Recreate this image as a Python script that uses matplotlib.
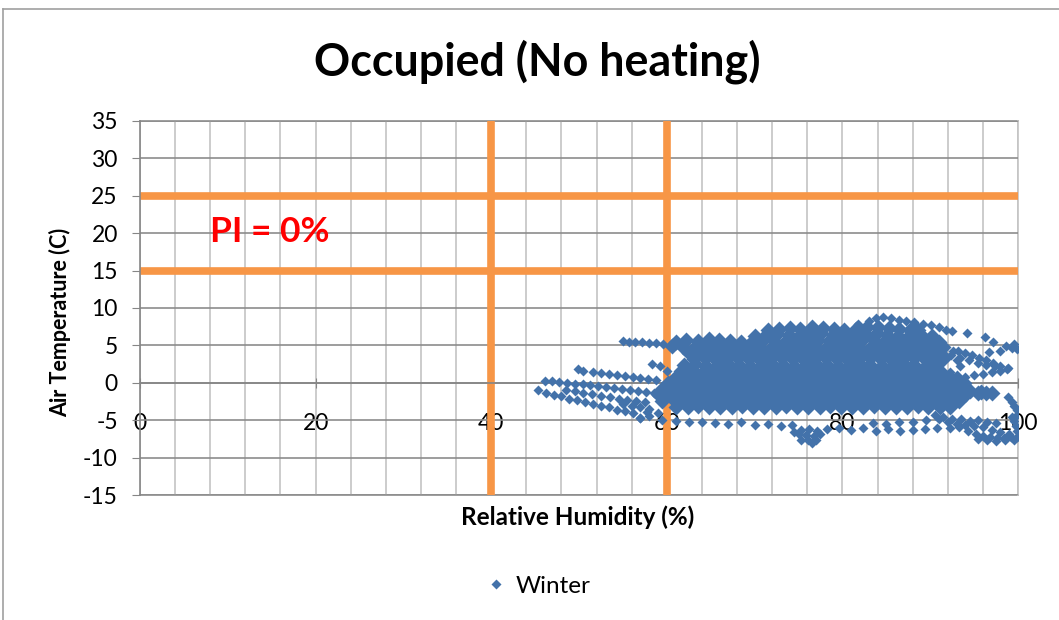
import matplotlib
matplotlib.use('Agg')
import matplotlib.pyplot as plt
from matplotlib.lines import Line2D

plt.rcParams['font.family'] = ['Lato', 'DejaVu Sans']
plt.rcParams['axes.unicode_minus'] = False

# ---- data (relative humidity %, air temperature C) ----
# dense core of the winter cloud, one line per band
rh_core = [
    71.5, 72.8, 74.0, 75.2, 76.5, 77.8, 79.0, 80.2, 81.5, 82.8, 84.0, 85.3, 86.5, 87.7, 88.6,
    70.1, 71.3, 72.6, 73.9, 75.1, 76.3, 77.6, 78.9, 80.1, 81.3, 82.6, 83.9, 85.1, 86.3, 87.6, 88.9, 90.2,
    61.0, 62.2, 63.5, 64.8, 66.0, 67.2, 68.5, 69.8, 71.0, 72.2, 73.5, 74.8, 76.0, 77.2, 78.5, 79.8, 81.0,
    82.2, 83.5, 84.8, 86.0, 87.2, 88.5, 89.8, 91.0,
    60.6, 61.9, 63.1, 64.3, 65.6, 66.9, 68.1, 69.3, 70.6, 71.9, 73.1, 74.3, 75.6, 76.9, 78.1, 79.3, 80.6,
    81.9, 83.1, 84.3, 85.6, 86.9, 88.1, 89.3, 90.6,
    62.5, 63.8, 65.0, 66.2, 67.5, 68.8, 70.0, 71.2, 72.5, 73.8, 75.0, 76.2, 77.5, 78.8, 80.0, 81.2, 82.5,
    83.8, 85.0, 86.2, 87.5, 88.8, 90.0, 91.2,
    63.1, 64.4, 65.6, 66.8, 68.1, 69.4, 70.6, 71.8, 73.1, 74.4, 75.6, 76.8, 78.1, 79.4, 80.6, 81.8, 83.1,
    84.4, 85.6, 86.8, 88.1, 89.4, 90.6, 91.5,
    62.0, 63.2, 64.5, 65.8, 67.0, 68.2, 69.5, 70.8, 72.0, 73.2, 74.5, 75.8, 77.0, 78.2, 79.5, 80.8, 82.0,
    83.2, 84.5, 85.8, 87.0, 88.2, 89.5, 90.6,
    61.6, 62.9, 64.1, 65.3, 66.6, 67.9, 69.1, 70.3, 71.6, 72.9, 74.1, 75.3, 76.6, 77.9, 79.1, 80.3, 81.6,
    82.9, 84.1, 85.3, 86.6, 87.9, 89.1, 90.3, 91.2,
    61.0, 62.2, 63.5, 64.8, 66.0, 67.2, 68.5, 69.8, 71.0, 72.2, 73.5, 74.8, 76.0, 77.2, 78.5, 79.8, 81.0,
    82.2, 83.5, 84.8, 86.0, 87.2, 88.5, 89.8, 91.0, 92.2, 93.0,
    60.1, 61.4, 62.6, 63.8, 65.1, 66.4, 67.6, 68.8, 70.1, 71.4, 72.6, 73.8, 75.1, 76.4, 77.6, 78.8, 80.1,
    81.4, 82.6, 83.8, 85.1, 86.4, 87.6, 88.8, 90.1, 91.4, 92.6, 93.8,
    59.5, 60.8, 62.0, 63.2, 64.5, 65.8, 67.0, 68.2, 69.5, 70.8, 72.0, 73.2, 74.5, 75.8, 77.0, 78.2, 79.5,
    80.8, 82.0, 83.2, 84.5, 85.8, 87.0, 88.2, 89.5, 90.8, 92.0, 93.2, 94.5, 95.8, 97.0,
    59.1, 60.4, 61.6, 62.8, 64.1, 65.4, 66.6, 67.8, 69.1, 70.4, 71.6, 72.8, 74.1, 75.4, 76.6, 77.8, 79.1,
    80.4, 81.6, 82.8, 84.1, 85.4, 86.6, 87.8, 89.1, 90.4, 91.6, 92.8, 94.1, 95.4, 96.4,
    59.5, 60.8, 62.0, 63.2, 64.5, 65.8, 67.0, 68.2, 69.5, 70.8, 72.0, 73.2, 74.5, 75.8, 77.0, 78.2, 79.5,
    80.8, 82.0, 83.2, 84.5, 85.8, 87.0, 88.2, 89.5, 90.8, 92.0, 93.3,
    61.1, 62.4, 63.6, 64.8, 66.1, 67.4, 68.6, 69.8, 71.1, 72.4, 73.6, 74.8, 76.1, 77.4, 78.6, 79.8, 81.1,
    82.4, 83.6, 84.8, 86.1, 87.4, 88.6, 89.8, 91.1, 92.3,
]
t_core = [
    7.1, 7.2, 7.3, 7.2, 7.4, 7.3, 7.2, 7.1, 7.2, 7.4, 7.5, 7.3, 7.2, 7.0, 7.1,
    6.3, 6.4, 6.5, 6.4, 6.3, 6.5, 6.6, 6.4, 6.3, 6.4, 6.5, 6.6, 6.4, 6.3, 6.2, 6.4, 6.3,
    5.5, 5.7, 5.6, 5.8, 5.7, 5.6, 5.5, 5.6, 5.7, 5.6, 5.5, 5.4, 5.6, 5.7, 5.6, 5.5, 5.6,
    5.7, 5.8, 5.6, 5.5, 5.6, 5.7, 5.5, 5.4,
    4.9, 4.8, 4.7, 4.8, 4.9, 4.8, 4.7, 4.9, 4.8, 4.7, 4.8, 4.9, 5.0, 4.8, 4.7, 4.8, 4.9,
    4.8, 4.7, 4.8, 4.9, 4.8, 4.7, 4.8, 4.9,
    4.0, 4.1, 3.9, 4.0, 4.1, 4.0, 3.9, 4.0, 4.1, 4.0, 3.9, 4.0, 4.1, 4.2, 4.0, 3.9, 4.0,
    4.1, 4.0, 3.9, 4.0, 4.1, 4.0, 3.9,
    3.2, 3.3, 3.1, 3.2, 3.3, 3.2, 3.1, 3.2, 3.3, 3.2, 3.1, 3.2, 3.3, 3.2, 3.1, 3.2, 3.3,
    3.2, 3.1, 3.2, 3.3, 3.2, 3.1, 3.2,
    2.4, 2.5, 2.3, 2.4, 2.5, 2.4, 2.3, 2.4, 2.5, 2.4, 2.3, 2.4, 2.5, 2.4, 2.3, 2.4, 2.5,
    2.4, 2.3, 2.4, 2.5, 2.4, 2.3, 2.4,
    1.6, 1.7, 1.5, 1.6, 1.7, 1.6, 1.5, 1.6, 1.7, 1.6, 1.5, 1.6, 1.7, 1.6, 1.5, 1.6, 1.7,
    1.6, 1.5, 1.6, 1.7, 1.6, 1.5, 1.6, 1.5,
    0.8, 0.9, 0.7, 0.8, 0.9, 0.8, 0.7, 0.8, 0.9, 0.8, 0.7, 0.8, 0.9, 0.8, 0.7, 0.8, 0.9,
    0.8, 0.7, 0.8, 0.9, 0.8, 0.7, 0.8, 0.9, 0.8, 0.7,
    0.0, 0.1, -0.1, 0.0, 0.1, 0.0, -0.1, 0.0, 0.1, 0.0, -0.1, 0.0, 0.1, 0.0, -0.1, 0.0, 0.1,
    0.0, -0.1, 0.0, 0.1, 0.0, -0.1, 0.0, 0.1, 0.0, -0.1, 0.0,
    -0.8, -0.7, -0.9, -0.8, -0.7, -0.8, -0.9, -0.8, -0.7, -0.8, -0.9, -0.8, -0.7, -0.8, -0.9, -0.8, -0.7,
    -0.8, -0.9, -0.8, -0.7, -0.8, -0.9, -0.8, -0.7, -0.8, -0.9, -1.0, -1.1, -1.2, -1.3,
    -1.6, -1.5, -1.7, -1.6, -1.5, -1.6, -1.7, -1.6, -1.5, -1.6, -1.7, -1.6, -1.5, -1.6, -1.7, -1.6, -1.5,
    -1.6, -1.7, -1.6, -1.5, -1.6, -1.7, -1.6, -1.5, -1.6, -1.7, -1.6, -1.5, -1.4, -1.4,
    -2.4, -2.3, -2.5, -2.4, -2.3, -2.4, -2.5, -2.4, -2.3, -2.4, -2.5, -2.4, -2.3, -2.4, -2.5, -2.4, -2.3,
    -2.4, -2.5, -2.4, -2.3, -2.4, -2.5, -2.4, -2.3, -2.4, -2.5, -2.4,
    -3.2, -3.3, -3.1, -3.2, -3.3, -3.2, -3.1, -3.2, -3.3, -3.2, -3.1, -3.2, -3.3, -3.2, -3.1, -3.2, -3.3,
    -3.2, -3.1, -3.2, -3.3, -3.2, -3.1, -3.2, -3.3, -3.2,
]

# left tail of the cloud (lower humidity)
rh_tail = [
    55.0, 55.7, 56.4, 57.2, 58.0, 58.8, 59.6,
    49.9, 50.5, 51.6, 52.5, 53.4, 54.3, 55.2, 56.1, 57.0, 57.9, 58.8,
    46.1, 46.9, 47.7, 48.6, 49.5, 50.4, 51.3, 52.2, 53.1, 54.0, 54.9, 55.8, 56.7, 57.6, 58.5,
    45.3, 46.2, 47.1, 48.0, 48.9, 49.8, 50.7, 51.6, 52.5, 53.4, 54.3, 55.2, 56.1,
    48.5, 49.5, 50.5, 51.5, 52.5, 53.5, 54.5, 55.5, 56.5, 57.5,
    55.0, 56.0, 57.0, 58.0, 57.0, 58.0, 59.0, 57.8,
    58.3, 59.2, 60.0,
]
t_tail = [
    5.6, 5.5, 5.5, 5.4, 5.3, 5.3, 5.2,
    1.8, 1.6, 1.4, 1.3, 1.2, 1.1, 0.9, 0.8, 0.7, 0.5, 0.4,
    0.3, 0.2, 0.1, 0.0, -0.1, -0.2, -0.3, -0.4, -0.6, -0.7, -0.8, -0.9, -1.1, -1.2, -1.3,
    -1.0, -1.3, -1.6, -1.8, -2.1, -2.3, -2.6, -2.8, -3.1, -3.3, -3.6, -3.8, -4.1,
    -0.9, -1.1, -1.3, -1.5, -1.7, -1.9, -2.1, -2.3, -2.4, -2.6,
    -2.9, -3.1, -3.3, -3.5, -4.7, -4.4, -4.1, -3.9,
    2.5, 2.2, 1.6,
]

# upper and right edge (peak, arrow shaped loops, points near 100 %)
rh_right = [
    81.8, 83.0, 83.8, 84.6, 85.5, 86.4, 87.3, 88.2, 89.2, 90.1, 91.0, 91.8, 92.5,
    94.2, 96.2, 97.1, 97.9, 96.7, 98.6, 99.3, 99.9, 99.5,
    93.2, 94.0, 94.8, 95.6, 96.4, 97.2, 98.0, 98.9,
    92.4, 93.4, 94.4, 95.4, 96.4, 97.4,
    93.0, 94.0, 95.0, 96.0, 97.0, 98.0, 98.8,
    90.8, 91.8, 92.6, 93.1, 92.3, 93.4,
    98.9, 99.3, 99.6, 99.9, 99.9,
]
t_right = [
    7.9, 8.3, 8.7, 8.8, 8.6, 8.4, 8.2, 8.1, 7.9, 7.7, 7.4, 7.1, 6.9,
    6.6, 6.1, 5.5, 4.3, 4.1, 4.9, 4.6, 4.5, 5.2,
    4.3, 4.0, 3.7, 3.3, 3.0, 2.7, 2.3, 2.0,
    3.7, 3.3, 3.0, 2.7, 2.4, 2.2,
    0.6, 0.8, 1.0, 1.2, 1.4, 1.6, 1.9,
    5.5, 4.8, 4.2, 3.0, 1.4, 2.2,
    -1.9, -2.5, -3.1, -3.7, -4.3,
]

# cold readings below the main cloud
rh_low = [
    57.0, 59.5, 61.0, 62.5, 64.0, 65.5, 67.0, 68.5, 70.0, 71.5, 73.0, 74.3,
    78.2, 79.6, 81.0, 82.4, 83.8, 85.2, 86.6, 88.0, 89.4, 90.8, 92.2, 93.3,
    83.5, 85.0, 86.5, 88.0, 89.5, 91.0,
    74.5, 75.3, 76.2, 77.1, 75.0, 75.9, 76.8, 77.5, 75.3, 76.1, 77.0, 76.5,
    90.5, 91.5, 92.5, 93.5, 94.5, 95.5, 96.5, 97.5, 92.0, 93.0, 94.0, 95.0, 96.0,
    94.3, 95.2, 96.0, 96.8, 97.6, 98.4, 99.2, 99.9, 95.5, 96.5, 97.5, 98.5, 99.5,
    99.9, 99.8, 99.5, 99.3, 97.0, 98.0, 99.0,
]
t_low = [
    -4.7, -5.0, -5.1, -5.3, -5.2, -5.4, -5.5, -5.3, -5.6, -5.5, -5.8, -5.6,
    -6.2, -6.0, -6.3, -6.1, -6.4, -6.2, -6.5, -6.3, -6.2, -6.0, -6.1, -5.9,
    -5.4, -5.5, -5.3, -5.2, -5.0, -4.9,
    -6.6, -6.3, -6.2, -6.4, -6.9, -7.0, -7.1, -6.9, -7.6, -7.7, -7.6, -8.0,
    -4.3, -4.6, -4.8, -4.9, -5.1, -5.0, -5.2, -5.4, -5.3, -5.5, -5.6, -5.8, -5.9,
    -6.4, -6.8, -7.1, -7.3, -7.4, -7.4, -7.3, -7.2, -7.5, -7.7, -7.8, -7.6, -7.7,
    -6.5, -5.8, -5.1, -4.6, -6.3, -6.6, -6.9,
]

rh_limits = [40, 60]
temp_limits = [15, 25]
pi_text = 'PI = 0%'

blue = '#4372AA'
orange = '#F79646'

fig = plt.figure(figsize=(10.59, 6.2), dpi=100)
ax = fig.add_axes([140 / 1059, 125 / 620, 878 / 1059, 374 / 620])

ax.set_xlim(0, 100)
ax.set_ylim(-15, 35)

# grid: light verticals every 4, darker horizontals every 5
ax.set_xticks(range(0, 101, 20))
ax.set_xticks(range(0, 101, 4), minor=True)
ax.set_yticks(range(-15, 36, 5))
ax.grid(axis='x', which='both', color='#C4C4C4', lw=1.2, zorder=0)
ax.grid(axis='y', which='major', color='#8C8C8C', lw=1.2, zorder=0)
ax.axhline(35, color='#8C8C8C', lw=1.2, clip_on=False, zorder=0)
ax.axhline(-15, color='#8C8C8C', lw=1.2, clip_on=False, zorder=0)
ax.axvline(100, color='#C4C4C4', lw=1.2, clip_on=False, zorder=0)

for s in ['top', 'right']:
    ax.spines[s].set_visible(False)
ax.spines['bottom'].set_position(('data', 0))
for s in ['left', 'bottom']:
    ax.spines[s].set_color('#868686')
    ax.spines[s].set_linewidth(1.2)

ax.tick_params(axis='x', which='major', direction='inout', length=7, pad=18,
               color='#868686', labelsize=16.5)
ax.tick_params(axis='x', which='minor', length=0)
ax.tick_params(axis='y', direction='out', length=6, pad=10, color='#868686', labelsize=16.5)

# comfort limits
for v in rh_limits:
    ax.axvline(v, color=orange, lw=5.5, zorder=2)
for v in temp_limits:
    ax.axhline(v, color=orange, lw=5.5, zorder=2)

ax.plot(rh_core, t_core, ls='none', marker='D', ms=7.8, color=blue, mec='none', zorder=3)
ax.plot(rh_tail, t_tail, ls='none', marker='D', ms=5.0, color=blue, mec='none', zorder=3)
ax.plot(rh_right, t_right, ls='none', marker='D', ms=5.0, color=blue, mec='none', zorder=3)
ax.plot(rh_low, t_low, ls='none', marker='D', ms=5.0, color=blue, mec='none', zorder=3)

ax.text(8.0, 20.1, pi_text, color='#FF0000', fontsize=25.5, weight='bold',
        ha='left', va='center', zorder=4)

fig.text(537 / 1059, 1 - 62 / 620, 'Occupied (No heating)', ha='center', va='center',
         fontsize=32.3, weight='bold')
fig.text(578 / 1059, 1 - 517 / 620, 'Relative Humidity (%)', ha='center', va='center',
         fontsize=17.5, weight='bold')
fig.text(60 / 1059, 1 - 322 / 620, 'Air Temperature (C)', ha='center', va='center',
         rotation=90, fontsize=15.5, weight='bold')

handle = Line2D([], [], ls='none', marker='D', ms=4.6, color=blue, mec='none')
fig.legend([handle], ['Winter'], loc='center', bbox_to_anchor=(538 / 1059, 1 - 586 / 620),
           frameon=False, fontsize=17.5, handlelength=0.8, handletextpad=0.4)

# chart area border
fig.add_artist(Line2D([3 / 1059, 1], [1 - 9 / 620, 1 - 9 / 620], color='#A0A0A0', lw=1.2))
fig.add_artist(Line2D([3 / 1059, 3 / 1059], [0, 1 - 9 / 620], color='#A0A0A0', lw=1.2))

fig.savefig('out.png', dpi=100)
